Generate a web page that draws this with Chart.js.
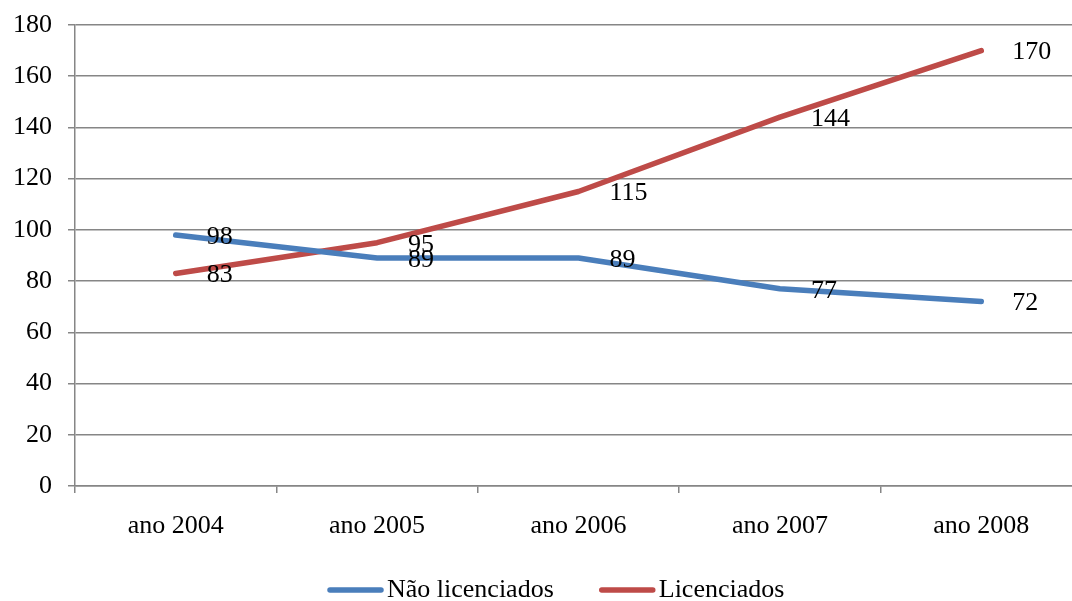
<!DOCTYPE html>
<html lang="pt">
<head>
<meta charset="utf-8">
<title>Não licenciados / Licenciados</title>
<script src="https://cdn.jsdelivr.net/npm/chart.js@4/dist/chart.umd.min.js"></script>
<style>
  html, body { margin: 0; padding: 0; background: #ffffff; overflow: hidden; }
  #wrap { width: 1090px; height: 601px; }
</style>
</head>
<body>
<div id="wrap"><canvas id="chart" width="1090" height="601"></canvas></div>
<script>
// Series per year
const categories = ['ano 2004', 'ano 2005', 'ano 2006', 'ano 2007', 'ano 2008'];
const naoLicenciados = [98, 89, 89, 77, 72];
const licenciados = [83, 95, 115, 144, 170];
const seriesNames = ['Não licenciados', 'Licenciados'];
const yTickValues = [0, 20, 40, 60, 80, 100, 120, 140, 160, 180];

const FONT_FAMILY = '"Liberation Serif", "Times New Roman", Times, serif';
const FONT_SIZE = 26;
const GRID = '#868686';
const BLUE = '#4a7ebb';
const RED = '#be4b48';

// Value labels to the right of each point
const valueLabels = {
  id: 'valueLabels',
  afterDatasetsDraw(chart) {
    const ctx = chart.ctx;
    ctx.save();
    ctx.font = FONT_SIZE + 'px ' + FONT_FAMILY;
    ctx.fillStyle = '#000000';
    ctx.textAlign = 'left';
    ctx.textBaseline = 'middle';
    chart.data.datasets.forEach((ds, i) => {
      const meta = chart.getDatasetMeta(i);
      meta.data.forEach((pt, j) => {
        ctx.fillText(String(ds.data[j]), pt.x + 31, pt.y + 2);
      });
    });
    ctx.restore();
  }
};

// Legend row under the axis: line sample followed by series name
const lineLegend = {
  id: 'lineLegend',
  afterDraw(chart) {
    const ctx = chart.ctx;
    const y = 590;
    const sample = 55;
    const gapText = 4;
    const gapItem = 46;
    let x = 328;
    ctx.save();
    ctx.font = FONT_SIZE + 'px ' + FONT_FAMILY;
    ctx.textBaseline = 'middle';
    ctx.textAlign = 'left';
    chart.data.datasets.forEach((ds) => {
      ctx.strokeStyle = ds.borderColor;
      ctx.lineWidth = ds.borderWidth;
      ctx.lineCap = 'round';
      ctx.beginPath();
      ctx.moveTo(x + 2, y);
      ctx.lineTo(x + sample - 2, y);
      ctx.stroke();
      x += sample + gapText;
      ctx.fillStyle = '#000000';
      ctx.fillText(ds.label, x, y);
      x += ctx.measureText(ds.label).width + gapItem;
    });
    ctx.restore();
  }
};

const tickFont = { family: FONT_FAMILY, size: FONT_SIZE };

new Chart(document.getElementById('chart'), {
  type: 'line',
  data: {
    labels: categories,
    datasets: [
      {
        label: seriesNames[0],
        data: naoLicenciados,
        borderColor: BLUE,
        backgroundColor: BLUE,
        borderWidth: 5.5,
        borderCapStyle: 'round',
        borderJoinStyle: 'round',
        pointRadius: 0,
        pointHoverRadius: 0,
        tension: 0,
        fill: false
      },
      {
        label: seriesNames[1],
        data: licenciados,
        borderColor: RED,
        backgroundColor: RED,
        borderWidth: 5.5,
        borderCapStyle: 'round',
        borderJoinStyle: 'round',
        pointRadius: 0,
        pointHoverRadius: 0,
        tension: 0,
        fill: false
      }
    ]
  },
  options: {
    responsive: false,
    animation: false,
    devicePixelRatio: 1,
    events: [],
    layout: { padding: { top: 25, right: 8, bottom: 0, left: 0 } },
    plugins: {
      legend: { display: false },
      tooltip: { enabled: false },
      title: { display: false }
    },
    scales: {
      x: {
        type: 'category',
        offset: true,
        grid: {
          offset: true,
          drawOnChartArea: false,
          drawTicks: true,
          tickLength: 7,
          color: GRID,
          lineWidth: 1.5
        },
        border: { display: true, color: GRID, width: 1.5 },
        ticks: {
          font: tickFont,
          color: '#000000',
          padding: 18,
          maxRotation: 0,
          autoSkip: false
        },
        afterFit(scale) { scale.height = 115; }
      },
      y: {
        min: yTickValues[0],
        max: yTickValues[yTickValues.length - 1],
        afterBuildTicks(scale) {
          scale.ticks = yTickValues.map(v => ({ value: v }));
        },
        grid: {
          color: GRID,
          lineWidth: 1.5,
          drawTicks: true,
          tickLength: 7
        },
        border: { display: true, color: GRID, width: 1.5 },
        ticks: {
          font: { family: FONT_FAMILY, size: FONT_SIZE, lineHeight: 0.6 },
          color: '#000000',
          padding: 16
        },
        afterFit(scale) { scale.width = 75; }
      }
    }
  },
  plugins: [valueLabels, lineLegend]
});
</script>
</body>
</html>
